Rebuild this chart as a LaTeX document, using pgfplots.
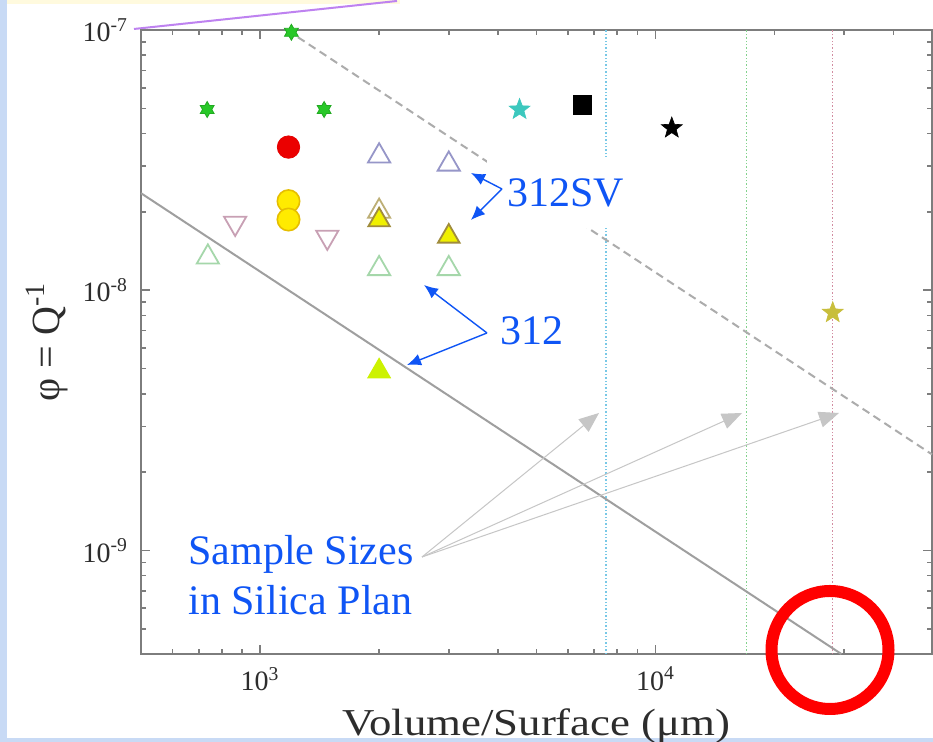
\documentclass[border=0pt]{standalone}
\usepackage{fontspec}
\setmainfont{Liberation Serif}
\newfontfamily\widefont[FakeStretch=1.18]{Liberation Serif}
\usepackage{pgfplots}
\pgfplotsset{compat=1.18}
\usetikzlibrary{arrows.meta}

\definecolor{axisgray}{RGB}{125,125,125}
\definecolor{tickgray}{RGB}{45,45,45}
\definecolor{slideblue}{RGB}{15,85,245}
\definecolor{stripblue}{RGB}{200,218,245}
\definecolor{bandyellow}{RGB}{255,250,222}
\definecolor{lilac}{RGB}{190,130,240}
\definecolor{starGreen}{RGB}{40,200,40}
\definecolor{starCyan}{RGB}{60,200,190}
\definecolor{starOlive}{RGB}{200,190,60}
\definecolor{lavender}{RGB}{150,150,200}
\definecolor{paleGreen}{RGB}{165,215,170}
\definecolor{mauve}{RGB}{200,160,180}
\definecolor{triYellow}{RGB}{240,240,0}
\definecolor{triEdge}{RGB}{160,140,60}
\definecolor{dotYellow}{RGB}{255,235,0}
\definecolor{dotEdge}{RGB}{230,190,0}
\definecolor{vCyan}{RGB}{120,200,230}
\definecolor{vGreen}{RGB}{130,210,140}
\definecolor{vPink}{RGB}{210,140,160}

% filled six- and five-pointed stars
\pgfdeclareplotmark{sixstar}{%
  \pgfpathmoveto{\pgfpointpolar{90}{\pgfplotmarksize}}%
  \pgfpathlineto{\pgfpointpolar{120}{0.58*\pgfplotmarksize}}%
  \pgfpathlineto{\pgfpointpolar{150}{\pgfplotmarksize}}%
  \pgfpathlineto{\pgfpointpolar{180}{0.58*\pgfplotmarksize}}%
  \pgfpathlineto{\pgfpointpolar{210}{\pgfplotmarksize}}%
  \pgfpathlineto{\pgfpointpolar{240}{0.58*\pgfplotmarksize}}%
  \pgfpathlineto{\pgfpointpolar{270}{\pgfplotmarksize}}%
  \pgfpathlineto{\pgfpointpolar{300}{0.58*\pgfplotmarksize}}%
  \pgfpathlineto{\pgfpointpolar{330}{\pgfplotmarksize}}%
  \pgfpathlineto{\pgfpointpolar{0}{0.58*\pgfplotmarksize}}%
  \pgfpathlineto{\pgfpointpolar{30}{\pgfplotmarksize}}%
  \pgfpathlineto{\pgfpointpolar{60}{0.58*\pgfplotmarksize}}%
  \pgfpathclose\pgfusepathqfillstroke}
\pgfdeclareplotmark{fivestar}{%
  \pgfpathmoveto{\pgfpointpolar{90}{\pgfplotmarksize}}%
  \pgfpathlineto{\pgfpointpolar{126}{0.42*\pgfplotmarksize}}%
  \pgfpathlineto{\pgfpointpolar{162}{\pgfplotmarksize}}%
  \pgfpathlineto{\pgfpointpolar{198}{0.42*\pgfplotmarksize}}%
  \pgfpathlineto{\pgfpointpolar{234}{\pgfplotmarksize}}%
  \pgfpathlineto{\pgfpointpolar{270}{0.42*\pgfplotmarksize}}%
  \pgfpathlineto{\pgfpointpolar{306}{\pgfplotmarksize}}%
  \pgfpathlineto{\pgfpointpolar{342}{0.42*\pgfplotmarksize}}%
  \pgfpathlineto{\pgfpointpolar{18}{\pgfplotmarksize}}%
  \pgfpathlineto{\pgfpointpolar{54}{0.42*\pgfplotmarksize}}%
  \pgfpathclose\pgfusepathqfillstroke}

\begin{document}
\begin{tikzpicture}
% slide background (1 unit = one pixel of the slide)
\begin{scope}[x=0.5pt,y=-0.5pt,shift={(-70.5pt,327pt)}]
  \fill[white] (0,0) rectangle (933,742);
  \fill[bandyellow] (7,0) rectangle (400,4);
  \fill[stripblue] (0,0) rectangle (7,742);
  \fill[stripblue] (0,738) rectangle (933,742);
  \draw[lilac, line width=1pt] (134,29) -- (397,1);
\end{scope}

\begin{axis}[
    scale only axis,
    width=395.5pt, height=312pt,
    xmode=log, ymode=log,
    xmin=500, xmax=50000,
    ymin=4e-10, ymax=1e-7,
    clip=false,
    axis line style={axisgray, line width=1pt},
    tick style={axisgray, line width=0.8pt},
    major tick length=4.5pt,
    minor tick length=2.5pt,
    tick align=inside,
    xtick={1000,10000},
    xticklabels={10\textsuperscript{3},10\textsuperscript{4}},
    minor xtick={600,700,800,900,2000,3000,4000,5000,6000,7000,8000,9000,20000,30000,40000},
    ytick={1e-9,1e-8,1e-7},
    yticklabels={10\textsuperscript{-9},10\textsuperscript{-8},10\textsuperscript{-7}},
    minor ytick={5e-10,6e-10,7e-10,8e-10,9e-10,2e-9,3e-9,4e-9,5e-9,6e-9,7e-9,8e-9,9e-9,2e-8,3e-8,4e-8,5e-8,6e-8,7e-8,8e-8,9e-8},
    tick label style={font=\fontsize{14}{16}\selectfont, text=tickgray},
    xticklabel style={yshift=-3pt},
    yticklabel style={xshift=-3pt},
    xlabel={\widefont Volume/Surface (μm)},
    xlabel style={at={(axis description cs:0.5,-0.13)}, anchor=base,
        font=\fontsize{19}{22}\selectfont, text=tickgray},
    ylabel={φ = Q\textsuperscript{-1}},
    ylabel style={at={(axis description cs:-0.119,0.5)}, anchor=center,
        font=\fontsize{20}{22}\selectfont, text=tickgray},
]

% sample-size lines
\addplot[vCyan, densely dotted, line width=0.7pt] coordinates {(7500,4e-10) (7500,1e-7)};
\addplot[vGreen, densely dotted, line width=0.7pt] coordinates {(17000,4e-10) (17000,1e-7)};
\addplot[vPink, densely dotted, line width=0.7pt] coordinates {(28000,4e-10) (28000,1e-7)};

% limit lines, phi proportional to 1/(V/S)
\addplot[gray!75, line width=1pt] coordinates {(500,2.36e-8) (29500,4e-10)};
\addplot[gray!65, line width=1pt, dash pattern=on 4pt off 2.5pt] coordinates {(1170,1e-7) (50000,2.34e-9)};

% measurements
\addplot[only marks, mark=sixstar, mark size=4pt, mark options={draw=starGreen!85!black, fill=starGreen, line width=0.4pt}]
  coordinates {(1200,9.8e-8) (735,4.95e-8) (1452,4.95e-8)};
\addplot[only marks, mark=*, mark size=5.6pt, mark options={draw=red!90!black, fill=red!92!black}]
  coordinates {(1180,3.55e-8)};
\addplot[only marks, mark=*, mark size=5.6pt, mark options={draw=dotEdge, fill=dotYellow, line width=0.8pt}]
  coordinates {(1180,2.2e-8) (1180,1.87e-8)};
\addplot[only marks, mark=triangle, mark size=6.4pt, mark options={draw=mauve, line width=0.9pt, rotate=180}]
  coordinates {(865,1.81e-8) (1479,1.60e-8)};
\addplot[only marks, mark=triangle, mark size=6.4pt, mark options={draw=paleGreen, line width=0.9pt}]
  coordinates {(738,1.34e-8) (2000,1.21e-8) (3000,1.21e-8)};
\addplot[only marks, mark=triangle, mark size=6.4pt, mark options={draw=lavender, line width=0.9pt}]
  coordinates {(2000,3.28e-8) (3000,3.05e-8)};
\addplot[only marks, mark=triangle, mark size=6.4pt, mark options={draw=triEdge!70, line width=0.9pt}]
  coordinates {(2000,2.01e-8)};
\addplot[only marks, mark=triangle*, mark size=6.2pt, mark options={draw=triEdge, fill=triYellow, line width=0.9pt}]
  coordinates {(2000,1.86e-8) (3000,1.61e-8)};
\addplot[only marks, mark=triangle*, mark size=6.4pt, mark options={draw=triYellow!85!green, fill=triYellow!85!green, line width=0.6pt}]
  coordinates {(2000,4.88e-9)};
\addplot[only marks, mark=fivestar, mark size=5.5pt, mark options={draw=starCyan, fill=starCyan, line width=0.3pt}]
  coordinates {(4530,4.95e-8)};
\addplot[only marks, mark=square*, mark size=4.7pt, mark options={draw=black, fill=black}]
  coordinates {(6530,5.15e-8)};
\addplot[only marks, mark=fivestar, mark size=5.5pt, mark options={draw=black, fill=black, line width=0.3pt}]
  coordinates {(10990,4.2e-8)};
\addplot[only marks, mark=fivestar, mark size=5.5pt, mark options={draw=starOlive, fill=starOlive, line width=0.3pt}]
  coordinates {(28050,8.2e-9)};
\end{axis}

% slide annotations
\begin{scope}[x=0.5pt,y=-0.5pt,shift={(-70.5pt,327pt)}]
  \fill[white] (487,157) rectangle (647,228);
  \node[anchor=base west, inner sep=0, text=slideblue, font=\fontsize{21}{24}\selectfont] at (507,207) {312SV};
  \node[anchor=base west, inner sep=0, text=slideblue, font=\fontsize{21}{24}\selectfont] at (500,345) {312};
  \node[anchor=base west, inner sep=0, text=slideblue, font=\fontsize{21}{24}\selectfont] at (188,565) {Sample Sizes};
  \node[anchor=base west, inner sep=0, text=slideblue, font=\fontsize{21}{24}\selectfont] at (188,615) {in Silica Plan};
  \draw[slideblue, line width=0.7pt, -{Latex[length=7pt,width=6pt]}] (502,189) -- (471,173);
  \draw[slideblue, line width=0.7pt, -{Latex[length=7pt,width=6pt]}] (502,189) -- (471,220);
  \draw[slideblue, line width=0.7pt, -{Latex[length=7pt,width=6pt]}] (487,333) -- (424,285);
  \draw[slideblue, line width=0.7pt, -{Latex[length=7pt,width=6pt]}] (487,333) -- (407,365);
  \draw[gray!45, line width=0.5pt, -{Triangle[length=10pt,width=8pt]}] (422,557) -- (599,413);
  \draw[gray!45, line width=0.5pt, -{Triangle[length=10pt,width=8pt]}] (422,557) -- (742,413);
  \draw[gray!45, line width=0.5pt, -{Triangle[length=10pt,width=8pt]}] (422,557) -- (839,413);
  \draw[red, line width=6pt] (830,650) ellipse [x radius=58.5, y radius=59];
  \pgfresetboundingbox
  \useasboundingbox (0,0) rectangle (933,742);
\end{scope}
\end{tikzpicture}
\end{document}
